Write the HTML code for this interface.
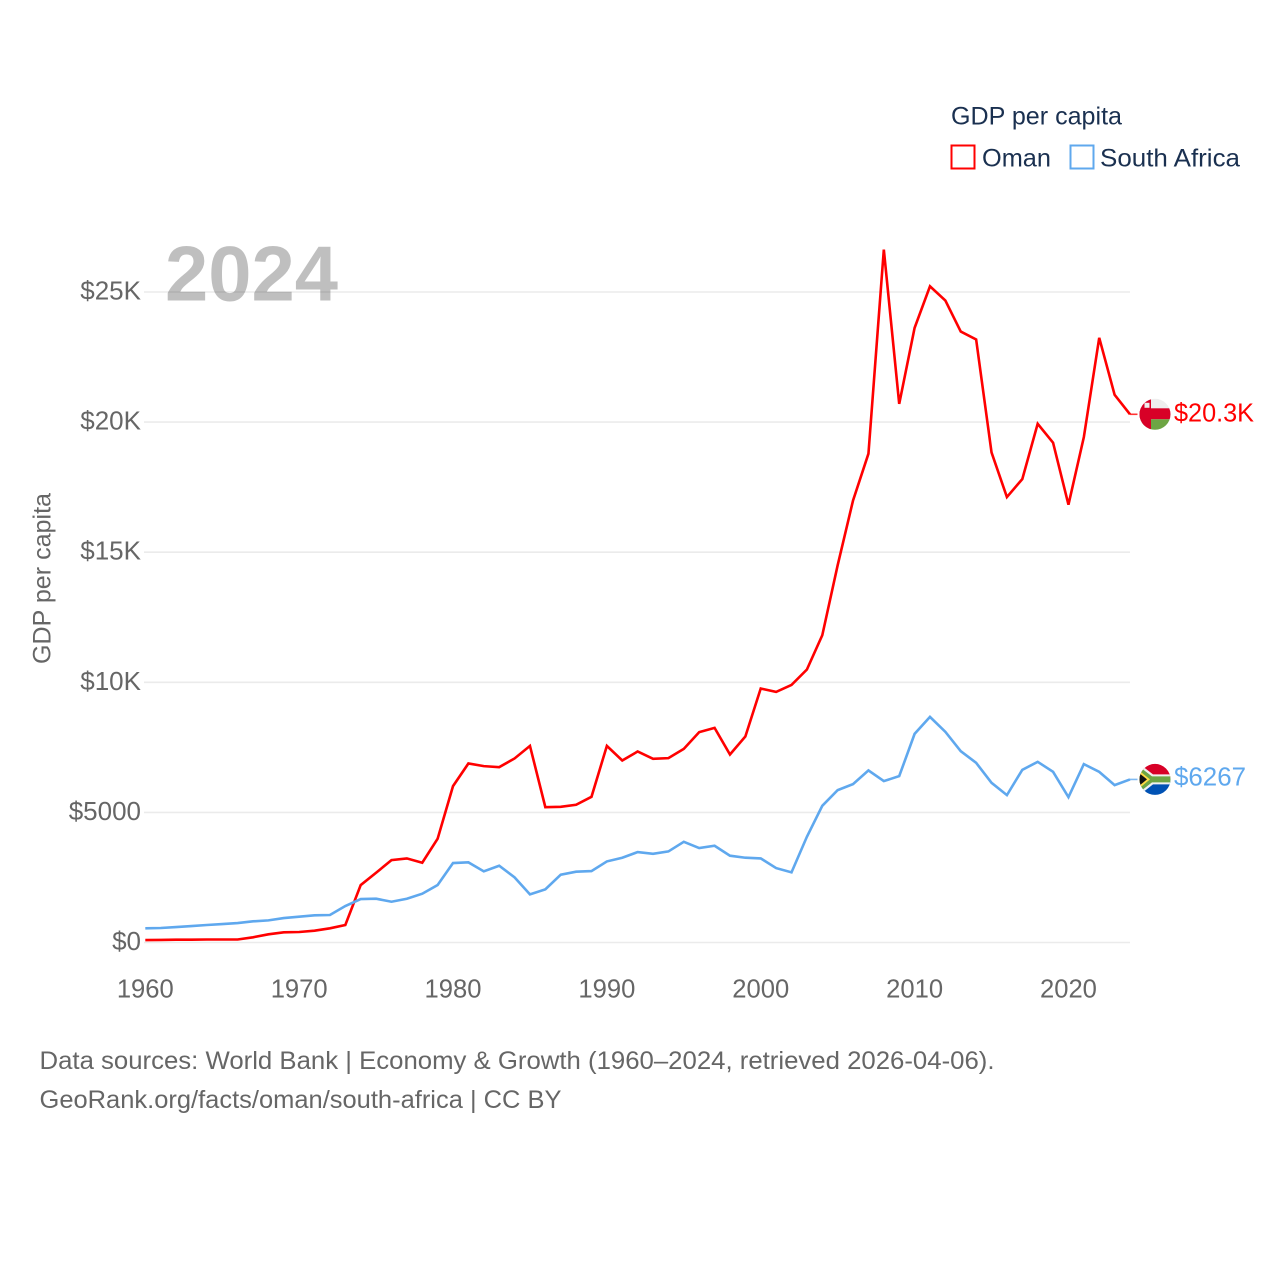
<!DOCTYPE html>
<html lang="en">
<head>
<meta charset="utf-8">
<title>GDP per capita: Oman and South Africa</title>
<style>
html,body{margin:0;padding:0;background:#fff;width:1280px;height:1280px;overflow:hidden}
svg{display:block}
text{font-family:"Liberation Sans",sans-serif}
</style>
</head>
<body>
<svg id="chart" xmlns="http://www.w3.org/2000/svg" width="1280" height="1280" viewBox="0 0 1280 1280">
  <defs>
    <clipPath id="flag-clip"><circle cx="0" cy="0" r="15.5"/></clipPath>
  </defs>
  <g id="grid"></g>
  <g id="y-axis"></g>
  <g id="x-axis"></g>
  <text transform="translate(50.5,578.5) rotate(-90)" text-anchor="middle" font-size="25" fill="#666666" textLength="171" lengthAdjust="spacingAndGlyphs">GDP per capita</text>
  <g id="series"></g>
  <text x="165" y="300.5" font-size="78" font-weight="bold" fill="#000000" fill-opacity="0.25" textLength="173" lengthAdjust="spacingAndGlyphs">2024</text>
  <g id="end-markers"></g>
  <g>
    <text x="951" y="124.5" font-size="25" fill="#1a3050" textLength="171" lengthAdjust="spacingAndGlyphs">GDP per capita</text>
    <g>
      <rect x="951.5" y="145.5" width="23" height="23" fill="#ffffff" stroke="#ff0000" stroke-width="2"/>
      <text x="982" y="166.5" font-size="25" fill="#1a3050" textLength="69" lengthAdjust="spacingAndGlyphs">Oman</text>
    </g>
    <g>
      <rect x="1070.5" y="145.5" width="23" height="23" fill="#ffffff" stroke="#5fa8ee" stroke-width="2"/>
      <text x="1100" y="166.5" font-size="25" fill="#1a3050" textLength="140" lengthAdjust="spacingAndGlyphs">South Africa</text>
    </g>
  </g>
  <g>
    <text x="39.5" y="1069" font-size="25" fill="#666666" textLength="955" lengthAdjust="spacingAndGlyphs">Data sources: World Bank | Economy &amp; Growth (1960–2024, retrieved 2026-04-06).</text>
    <text x="39.5" y="1108" font-size="25" fill="#666666" textLength="522" lengthAdjust="spacingAndGlyphs">GeoRank.org/facts/oman/south-africa | CC BY</text>
  </g>
</svg>
<script>
const startYear = 1960;
const xTickYears = [1960, 1970, 1980, 1990, 2000, 2010, 2020];
const xTickLabels = ["1960", "1970", "1980", "1990", "2000", "2010", "2020"];
const yTickValues = [0, 5000, 10000, 15000, 20000, 25000];
const yTickLabels = ["$0", "$5000", "$10K", "$15K", "$20K", "$25K"];
const omanValues = [
  95, 97, 110, 110, 115, 115, 115, 200, 315, 390,
  403, 453, 545, 672, 2208, 2680, 3168, 3232, 3065, 3990,
  6010, 6880, 6778, 6740, 7073, 7557, 5203, 5215, 5292, 5600,
  7557, 6996, 7340, 7058, 7085, 7443, 8083, 8250, 7226, 7917,
  9760, 9632, 9900, 10490, 11808, 14500, 16990, 18785, 26630, 20700,
  23620, 25220, 24670, 23480, 23175, 18835, 17120, 17810, 19935, 19207,
  16827, 19423, 23240, 21050, 20300
];
const southAfricaValues = [
  545, 557, 595, 633, 672, 710, 748, 813, 851, 940,
  991, 1043, 1056, 1402, 1670, 1682, 1567, 1682, 1874, 2208,
  3053, 3080, 2734, 2950, 2503, 1850, 2042, 2604, 2720, 2745,
  3116, 3258, 3475, 3410, 3500, 3870, 3630, 3718, 3335, 3258,
  3232, 2860, 2695, 4063, 5253, 5856, 6086, 6612, 6202, 6394,
  8018, 8670, 8095, 7354, 6905, 6137, 5664, 6636, 6943, 6559,
  5587, 6855, 6559, 6048, 6267
];
const endLabels = ["$20.3K", "$6267"];

const NS = "http://www.w3.org/2000/svg";
function xScale(year) { return 145.3 + (year - 1960) * (1130 - 145.3) / 64; }
function yScale(value) { return 942.5 - value * (942.5 - 292) / 25000; }
function make(tag, attrs, parent) {
  const el = document.createElementNS(NS, tag);
  for (const k in attrs) el.setAttribute(k, attrs[k]);
  parent.appendChild(el);
  return el;
}

const grid = document.getElementById("grid");
const yAxis = document.getElementById("y-axis");
yTickValues.forEach(function (v, i) {
  const line = make("line", { x1: 144, x2: 1130, y1: yScale(v), y2: yScale(v), stroke: "#ebebeb", "stroke-width": 1.6 }, grid);
  
  
  const label = make("text", { x: 141, y: yScale(v) + 7.5, "text-anchor": "end", "font-size": 26, fill: "#666666" }, yAxis);
  label.textContent = yTickLabels[i];
  
  
});

const xAxis = document.getElementById("x-axis");
xTickYears.forEach(function (yr, i) {
  const label = make("text", { x: xScale(yr), y: 997.5, "text-anchor": "middle", "font-size": 25.6, fill: "#666666" }, xAxis);
  label.textContent = xTickLabels[i];
  
  
});

const seriesGroup = document.getElementById("series");
function drawLine(values, color) {
  const pts = values.map(function (v, i) { return xScale(startYear + i).toFixed(2) + "," + yScale(v).toFixed(2); }).join(" ");
  return make("polyline", { points: pts, fill: "none", stroke: color, "stroke-width": 2.6, "stroke-linejoin": "miter", "stroke-miterlimit": 4 }, seriesGroup);
}
const omanLine = drawLine(omanValues, "#ff0000");


const saLine = drawLine(southAfricaValues, "#5fa8ee");



const markers = document.getElementById("end-markers");
const lastYear = startYear + omanValues.length - 1;
const endX = xScale(lastYear);

function endMarker(value, color) {
  const y = yScale(value);
  const stub = make("line", { x1: endX, x2: endX + 7.5, y1: y, y2: y, stroke: color, "stroke-width": 1.6, "stroke-opacity": 0.8 }, markers);
  
  
  const g = make("g", { transform: "translate(" + (endX + 25) + "," + y + ")" }, markers);
  return g;
}

// Oman flag and label
const omanY = yScale(omanValues[omanValues.length - 1]);
const omanFlag = endMarker(omanValues[omanValues.length - 1], "#ff0000");


const omanClip = make("g", { "clip-path": "url(#flag-clip)" }, omanFlag);
make("rect", { x: -16, y: -16, width: 32, height: 10, fill: "#eeeeee" }, omanClip);
make("rect", { x: -16, y: -6, width: 32, height: 11, fill: "#d80027" }, omanClip);
make("rect", { x: -16, y: 5, width: 32, height: 11, fill: "#6da544" }, omanClip);
make("rect", { x: -16, y: -16, width: 12, height: 32, fill: "#d80027" }, omanClip);
make("rect", { x: -10.5, y: -11.5, width: 5, height: 5, fill: "#eeeeee" }, omanClip);
const omanLabel = make("text", { x: endX + 44, y: omanY + 7, "font-size": 25.6, fill: "#ff0000", textLength: 80, lengthAdjust: "spacingAndGlyphs" }, markers);
omanLabel.textContent = endLabels[0];



// South Africa flag and label
const saY = yScale(southAfricaValues[southAfricaValues.length - 1]);
const saFlag = endMarker(southAfricaValues[southAfricaValues.length - 1], "#5fa8ee");


const saClip = make("g", { "clip-path": "url(#flag-clip)" }, saFlag);
make("rect", { x: -16, y: -16, width: 32, height: 16, fill: "#d80027" }, saClip);
make("rect", { x: -16, y: 0, width: 32, height: 16, fill: "#0052b4" }, saClip);
make("path", { d: "M-16,-16 L-2,-5 L16,-5 L16,5 L-2,5 L-16,16 Z", fill: "#f0f0f0" }, saClip);
make("path", { d: "M-16,-13 L-3,-3 L16,-3 L16,3 L-3,3 L-16,13 Z", fill: "#6da544" }, saClip);
make("path", { d: "M-16,-9 L-5,0 L-16,9 Z", fill: "#ffda44" }, saClip);
make("path", { d: "M-16,-6.5 L-8,0 L-16,6.5 Z", fill: "#111111" }, saClip);
const saLabel = make("text", { x: endX + 44, y: saY + 6, "font-size": 25.6, fill: "#5fa8ee", textLength: 72, lengthAdjust: "spacingAndGlyphs" }, markers);
saLabel.textContent = endLabels[1];


</script>
</body>
</html>
